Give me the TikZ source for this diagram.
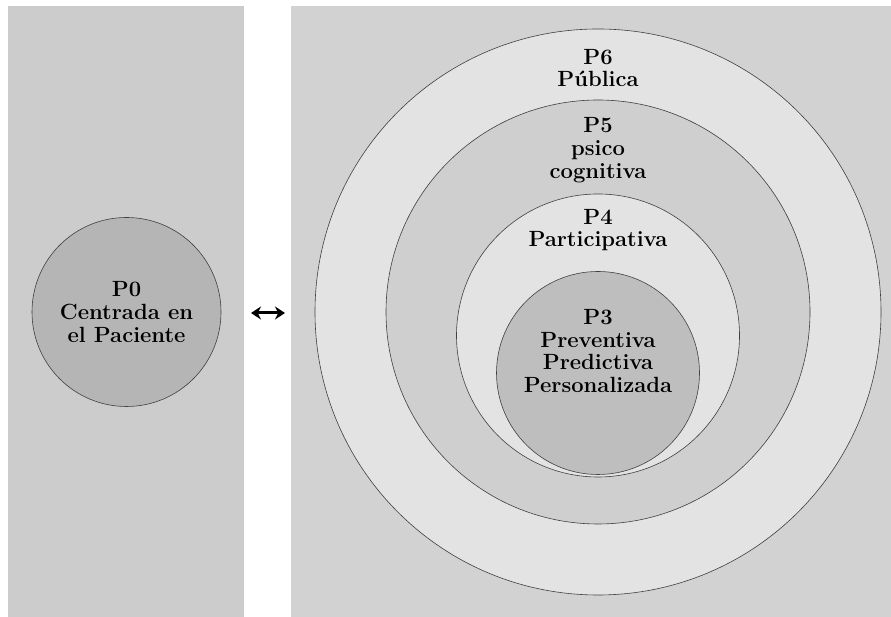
\documentclass[tikz,border=0pt]{standalone}
\usetikzlibrary{arrows.meta}
\definecolor{leftbg}{RGB}{204,204,204}
\definecolor{rightbg}{RGB}{210,210,210}
\definecolor{pzero}{RGB}{181,181,181}
\definecolor{pthree}{RGB}{190,190,190}
\definecolor{plight}{RGB}{227,227,227}
\definecolor{pfive}{RGB}{207,207,207}
\begin{document}
\begin{tikzpicture}[x=1pt,y=1pt,
  panel/.style={inner sep=0pt,outer sep=0pt,anchor=south west},
  ring/.style={circle,draw=black!75,line width=0.6pt,inner sep=0pt},
  lbl/.style={align=center,font=\fontsize{22}{22.8}\selectfont\bfseries,inner sep=0pt}]
\useasboundingbox (0,0) rectangle (891,617);
\fill[white] (0,0) rectangle (891,617);
% panels (y measured from bottom: ypx -> 617-ypx)
\node[panel,fill=leftbg,minimum width=236pt,minimum height=611pt] (left) at (8,0) {};
\node[panel,fill=rightbg,minimum width=600pt,minimum height=611pt] (right) at (291,0) {};
% nested circles
\node[ring,fill=plight,minimum size=566pt] (c6) at (598,305) {};
\node[ring,fill=pfive,minimum size=424pt] (c5) at (598,305) {};
\node[ring,fill=plight,minimum size=283pt] (c4) at (598,281.5) {};
\node[ring,fill=pthree,minimum size=203pt] (c3) at (598,244) {};
% P0 circle
\node[ring,fill=pzero,minimum size=189pt] (c0) at (126.5,305) {};
% labels
\node[lbl] (t0) at (126.5,305) {P0\\Centrada en\\el Paciente};
\node[lbl] (t6) at (598,549) {P6\\P\'ublica};
\node[lbl] (t5) at (598,467) {P5\\psico\\cognitiva};
\node[lbl] (t4) at (598,387) {P4\\Participativa};
\node[lbl] (t3) at (598,266) {P3\\Preventiva\\Predictiva\\Personalizada};
% arrow
\coordinate (a1) at (251,304);
\coordinate (a2) at (285,304);
\draw[line width=3pt,{Stealth[length=10pt,width=13pt]}-{Stealth[length=10pt,width=13pt]}] (a1) -- (a2);
\end{tikzpicture}
\end{document}
